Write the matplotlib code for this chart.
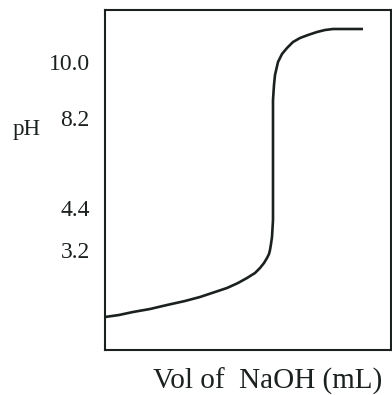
import matplotlib
matplotlib.use("Agg")
import matplotlib.pyplot as plt

# titration curve (x: volume, y: height on the schematic pH axis)
vol = [0, 14, 28, 45, 62, 80, 95, 110, 122, 133, 142, 150, 155, 159, 162, 164, 165,
       166, 167, 168, 168, 168, 168, 169, 170, 173, 177, 182, 188, 195, 203, 212,
       220, 228, 240, 258]
ph = [33, 35, 38, 41, 45, 49, 53, 58, 62, 67, 72, 77, 82, 87, 92, 96, 100,
      106, 113, 130, 170, 210, 250, 265, 275, 288, 296, 302, 308, 312, 315, 318,
      320, 321, 321, 321]

tick_pos = [100, 142, 232, 288]
tick_labels = ["3.2", "4.4", "8.2", "10.0"]

ink = "#1b211e"

fig = plt.figure(figsize=(3.92, 3.95), dpi=100)
ax = fig.add_axes([105 / 392, 45 / 395, 286 / 392, 340 / 395])

ax.plot(vol, ph, color=ink, lw=1.9, solid_capstyle="butt")

ax.set_xlim(0, 286)
ax.set_ylim(0, 340)
ax.set_xticks([])
ax.set_yticks(tick_pos)
ax.set_yticklabels(tick_labels, family="Liberation Serif", fontsize=17, color=ink)
ax.tick_params(axis="y", length=0, pad=11)
for s in ax.spines.values():
    s.set_linewidth(1.5)
    s.set_color(ink)

fig.text(27 / 392, 1 - 130 / 395, "pH", family="Liberation Serif", fontsize=16.5,
         color=ink, ha="center", va="center")
fig.text(268 / 392, 1 - 381 / 395, "Vol of  NaOH (mL)", family="Liberation Serif",
         fontsize=21, color=ink, ha="center", va="center")

fig.savefig("out.png", dpi=100)
